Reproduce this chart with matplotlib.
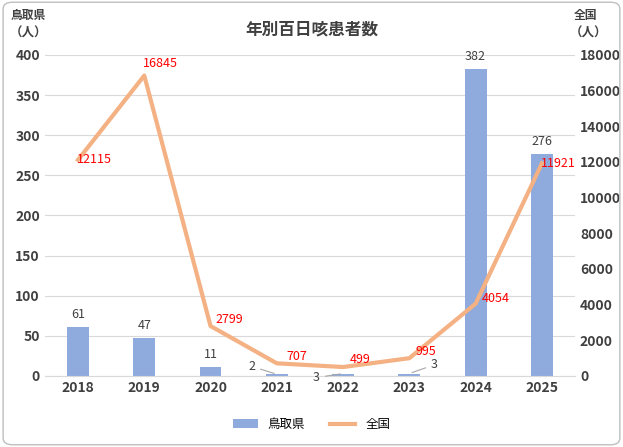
import matplotlib
matplotlib.use("Agg")
import matplotlib.pyplot as plt
from matplotlib.patches import FancyBboxPatch

plt.rcParams['font.family'] = 'Noto Sans CJK JP'

years = ['2018', '2019', '2020', '2021', '2022', '2023', '2024', '2025']
tottori = [61, 47, 11, 2, 3, 3, 382, 276]
national = [12115, 16845, 2799, 707, 499, 995, 4054, 11921]

fig = plt.figure(figsize=(6.23, 4.47), dpi=100)
fig.patches.append(FancyBboxPatch((0.005, 0.005), 0.99, 0.99, boxstyle="round,pad=0,rounding_size=0.015",
                                  transform=fig.transFigure, fc='none', ec='#bfbfbf', lw=1, zorder=10))
ax = fig.add_axes([0.072, 0.159, 0.851, 0.718])
ax.set_facecolor('none')
x = list(range(len(years)))
ax.bar(x, tottori, width=0.33, color='#8faadc', label='鳥取県', zorder=2)
ax.set_ylim(0, 400)
ax.set_yticks(range(0, 401, 50))
ax.set_xlim(-0.5, len(years) - 0.5)
ax.set_xticks(x)
ax.set_xticklabels(years, fontweight='bold', fontsize=10, color='#404040')
ax.grid(axis='y', color='#d9d9d9', lw=0.8, zorder=0)
for s in ['top', 'right', 'left']:
    ax.spines[s].set_visible(False)
ax.spines['bottom'].set_color('#d9d9d9')
ax.tick_params(length=0, labelsize=10, colors='#404040')
for l in ax.get_yticklabels():
    l.set_fontweight('bold')

ax2 = ax.twinx()
ax2.plot(x, national, color='#f4b183', lw=3, label='全国', zorder=3)
ax2.set_ylim(0, 18000)
ax2.set_yticks(range(0, 18001, 2000))
for s in ax2.spines.values():
    s.set_visible(False)
ax2.tick_params(length=0, labelsize=10, colors='#404040')
for l in ax2.get_yticklabels():
    l.set_fontweight('bold')

for i, v in enumerate(tottori):
    if i in (3, 4, 5):
        continue
    ax.text(i, v + 8, str(v), ha='center', va='bottom', fontsize=9, color='#404040')
ax.annotate('2', xy=(3, 2), xytext=(2.62, 12), ha='center', va='center', fontsize=9, color='#404040',
            arrowprops=dict(arrowstyle='-', color='#a6a6a6', lw=0.8))
ax.annotate('3', xy=(4, 3), xytext=(3.6, -2), ha='center', va='center', fontsize=9, color='#404040',
            arrowprops=dict(arrowstyle='-', color='#a6a6a6', lw=0.8))
ax.annotate('3', xy=(5, 3), xytext=(5.38, 14), ha='center', va='center', fontsize=9, color='#404040',
            arrowprops=dict(arrowstyle='-', color='#a6a6a6', lw=0.8))

offs = [(0.25, 0), (0.25, 700), (0.28, 350), (0.3, 400), (0.25, 400), (0.25, 400), (0.3, 300), (0.25, 0)]
for i, v in enumerate(national):
    dx, dy = offs[i]
    ax2.text(i + dx, v + dy, str(v), ha='center', va='center', fontsize=9, color='#ff0000')

fig.text(0.5, 0.935, '年別百日咳患者数', ha='center', va='center', fontsize=12, fontweight='bold', color='#404040')
fig.text(0.045, 0.965, '鳥取県', ha='center', va='center', fontsize=8.5, fontweight='bold', color='#404040')
fig.text(0.045, 0.925, '（人）', ha='center', va='center', fontsize=9, fontweight='bold', color='#404040')
fig.text(0.94, 0.965, '全国', ha='center', va='center', fontsize=8.5, fontweight='bold', color='#404040')
fig.text(0.945, 0.925, '（人）', ha='center', va='center', fontsize=9, fontweight='bold', color='#404040')

h1, l1 = ax.get_legend_handles_labels()
h2, l2 = ax2.get_legend_handles_labels()
fig.legend(h1 + h2, l1 + l2, loc='center', bbox_to_anchor=(0.5, 0.05), ncol=2, frameon=False, fontsize=9)
fig.savefig('out.png', dpi=100)
